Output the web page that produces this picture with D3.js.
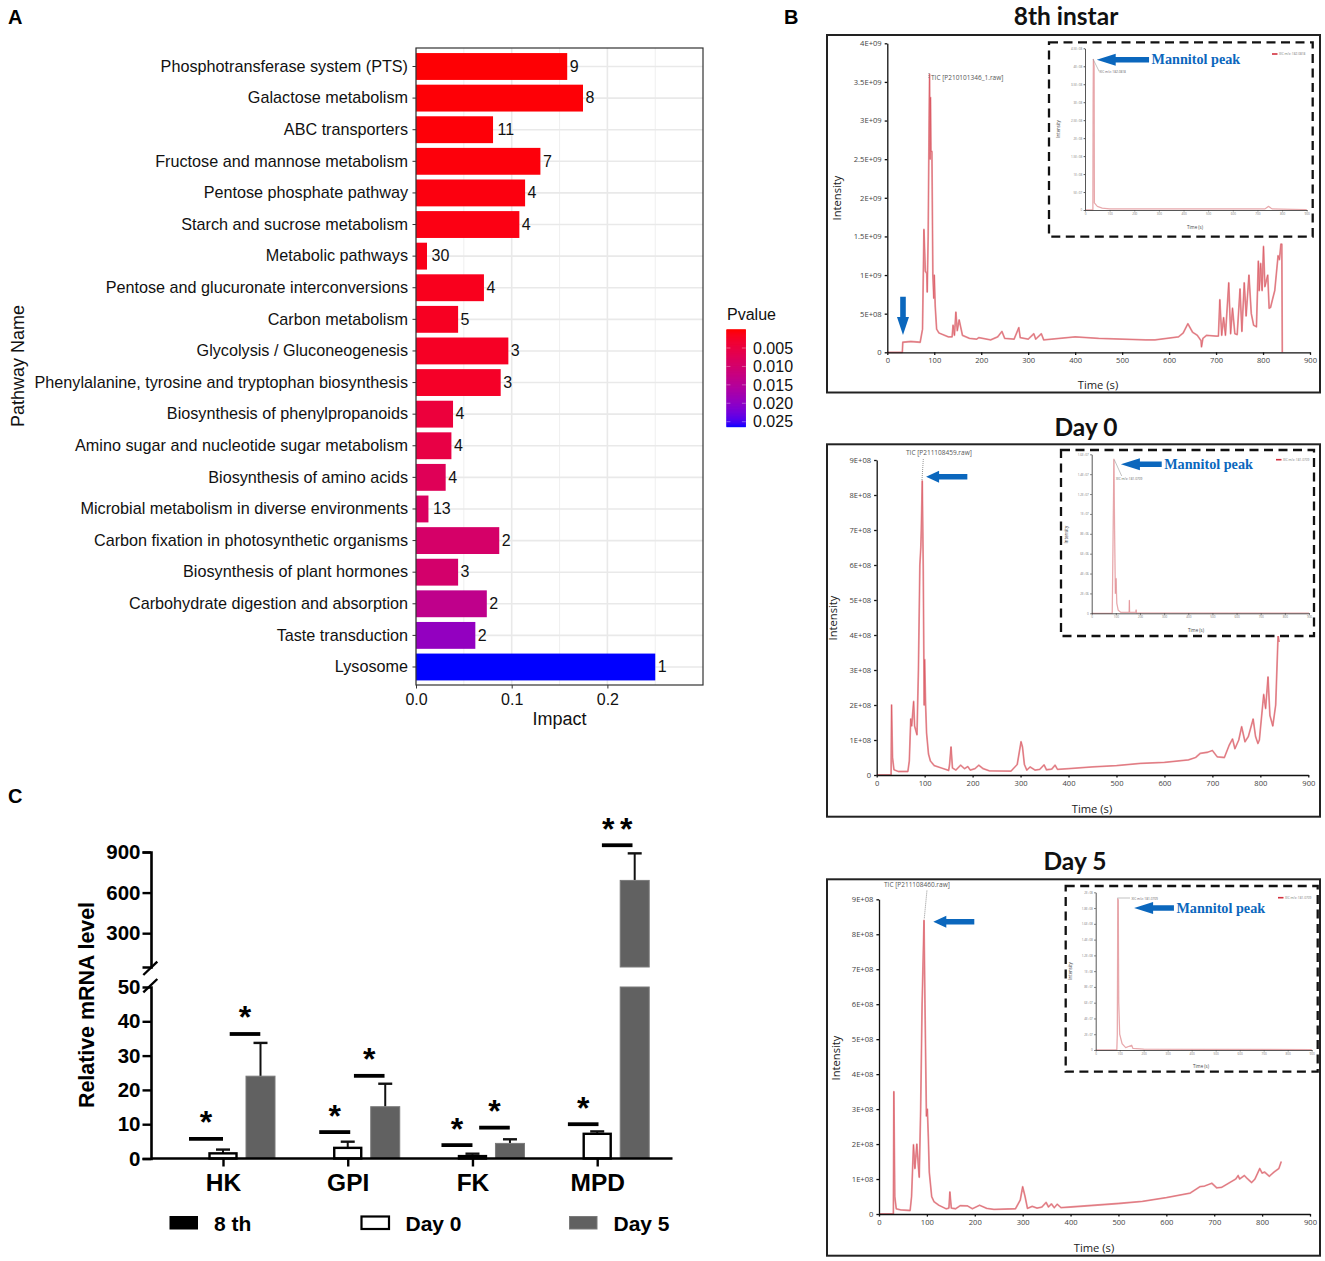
<!DOCTYPE html>
<html>
<head>
<meta charset="utf-8">
<script src="https://cdnjs.cloudflare.com/ajax/libs/d3/7.8.5/d3.min.js"></script>
<style>
html,body{margin:0;padding:0;background:#fff}
svg{display:block;font-family:"Liberation Sans",Arial,sans-serif}
</style>
</head>
<body>
<svg id="fig" width="1325" height="1261" viewBox="0 0 1325 1261"></svg>
<script>
// ---------- Panel A data ----------
const pathways = ["Phosphotransferase system (PTS)","Galactose metabolism","ABC transporters","Fructose and mannose metabolism","Pentose phosphate pathway","Starch and sucrose metabolism","Metabolic pathways","Pentose and glucuronate interconversions","Carbon metabolism","Glycolysis / Gluconeogenesis","Phenylalanine, tyrosine and tryptophan biosynthesis","Biosynthesis of phenylpropanoids","Amino sugar and nucleotide sugar metabolism","Biosynthesis of amino acids","Microbial metabolism in diverse environments","Carbon fixation in photosynthetic organisms","Biosynthesis of plant hormones","Carbohydrate digestion and absorption","Taste transduction","Lysosome"];
const impact = [0.158,0.1745,0.0805,0.13,0.114,0.108,0.0115,0.071,0.044,0.0965,0.0885,0.0387,0.037,0.031,0.013,0.087,0.044,0.074,0.062,0.25];
const hits = [9,8,11,7,4,4,30,4,5,3,3,4,4,4,13,2,3,2,2,1];
const pvalues = [0.0002,0.0003,0.0004,0.0005,0.0007,0.0009,0.0012,0.0016,0.002,0.0022,0.0025,0.0045,0.0055,0.0075,0.0085,0.0095,0.0098,0.0135,0.0195,0.0263];
const pTicks = [0.005,0.010,0.015,0.020,0.025];
const impactTicks = [0,0.1,0.2];
const impactMinor = [0.05,0.15,0.25];

// ---------- Panel C data ----------
const genes = ["HK","GPI","FK","MPD"];
const stages = ["8 th","Day 0","Day 5"];
const mean8th = [0,0,0,0];
const meanDay0 = [1.5,3.1,0.7,7.2];
const meanDay5 = [24,15.1,4.4,690];
const upperDay0 = [2.6,4.9,1.4,7.9];
const upperDay5 = [33.7,21.8,5.6,890];
const lowTicks = [0,10,20,30,40,50];
const highTicks = [300,600,900];
// significance: gene index, level (y value), star count
const sigGene = [0,0,1,1,2,2,3,3];
const sigLevel = [5.7,36.3,7.7,24.1,3.9,9,10,950];
const sigCenter = [-17,22,-13,21.5,-15.5,22,-14,20];
const sigWidth = [34,30.6,31,30.6,31,30.6,30.6,30.6];
const sigStars = ["*","*","*","*","*","*","*","**"];

// ---------- Panel B data: [time s, intensity in the plot's unit] ----------
const tic8th = [[0,0],[32,0],[33,1.3],[50,1.4],[70,1.3],[75,3],[78,15.9],[81,10.5],[84,10.2],[85,7.8],[87,15],[89,30],[90,36],[91,25],[92,33],[93,26],[95,26],[97,10],[99,7],[100,10],[102,6],[105,3],[110,2.5],[130,2],[138,2],[140,3.5],[143,2.2],[146,5.2],[149,2.8],[153,4.2],[160,2.2],[175,1.8],[190,1.7],[195,1.9],[220,1.6],[235,2],[244,2.7],[250,1.8],[270,1.7],[280,3.2],[283,1.9],[300,1.7],[312,2.4],[316,1.7],[328,2.4],[333,1.6],[350,1.7],[400,2],[450,1.8],[500,1.7],[550,1.6],[570,1.6],[620,2],[630,2.5],[640,3.7],[650,2.6],[660,2.2],[668,1.5],[669,0.7],[672,1.8],[680,2.2],[700,2.1],[705,2.1],[708,6.8],[712,2.2],[716,4.5],[720,2.2],[727,9],[731,2.4],[735,5.7],[740,2.4],[745,2.3],[751,8.2],[755,2.7],[760,9],[764,4.7],[770,10],[775,5],[780,3.5],[786,3.3],[790,11.8],[792,8],[795,11.5],[798,8],[801,13.7],[804,8.5],[810,10],[813,5.7],[816,5.8],[820,6.8],[825,8],[832,12.5],[835,12],[838,14],[840,14],[841,0]];
const ticDay0 = [[0,0],[30,0],[31,20],[33,5],[36,1.5],[45,1],[65,1],[68,4],[71,16],[73,14],[77,21],[79,14],[84,11.5],[87,30],[90,60],[92,65],[93,70],[95,84],[97,60],[99,20],[100,33],[102,20],[104,12],[108,6],[112,4],[120,2.7],[135,2],[150,1.3],[152,3],[155,8],[158,2],[165,1.4],[175,2.8],[183,1.8],[190,2.4],[195,1.4],[205,1.8],[213,2.8],[222,1.8],[235,1.2],[280,1.1],[293,3],[301,9.5],[304,8],[308,3],[313,1.4],[320,2.3],[330,1.4],[340,1.6],[349,2.9],[354,1.5],[365,1.7],[372,2.8],[377,1.6],[400,1.8],[450,2.3],[500,2.7],[550,3.3],[600,3.6],[650,4.3],[665,5],[675,6.2],[690,6.5],[700,7],[710,5.2],[725,5],[735,8.5],[742,10.3],[747,7.5],[755,10],[761,13.8],[768,9.5],[775,11],[785,16],[790,11],[795,9],[798,10],[800,13],[807,23],[811,19],[816,28],[820,17],[826,14],[832,20],[837,40],[839,38]];
const ticDay5 = [[0,0],[30,0],[31,35],[33,5],[36,1.5],[45,1.2],[65,1],[68,5],[72,19.8],[75,13],[79,20],[82,14],[84,10.5],[87,30],[90,60],[94,84],[96,60],[99,28],[101,30],[103,22],[105,12],[110,5],[115,3.5],[125,2.5],[140,1.5],[146,1.7],[148,6.3],[151,1.7],[160,1.5],[170,2.4],[185,2.3],[195,1.5],[210,2.5],[225,1.6],[240,1.3],[285,1.5],[295,4],[300,7.8],[305,5],[310,1.6],[320,2.2],[330,1.7],[340,2],[349,3.3],[354,2],[360,2.9],[366,1.8],[372,2.8],[380,1.8],[400,2],[450,2.5],[500,3],[550,3.6],[600,4.7],[650,6],[670,7.8],[680,8],[695,8.8],[705,7.5],[715,7.6],[730,8.8],[745,10],[750,11],[753,10],[763,11],[770,10],[778,9],[785,10],[795,13],[800,11.7],[805,12],[815,10.8],[825,12],[835,13],[840,15]];
const xicA = [[0,0],[32,0],[33,30],[34,41.9],[37,40],[38,2],[50,1],[70,0.5],[100,0.3],[730,0.3],[745,1],[760,0.3],[840,0.2],[900,0.1]];
const xicB = [[0,0],[85,0],[86,2],[92,15.5],[95,8],[98,2],[101,3.5],[104,1],[110,0.3],[120,0.1],[155,0.1],[156,1.3],[157,0.1],[183,0.1],[184,0.35],[185,0.05],[900,0.02]];
const xicC = [[0,0],[88,0],[90,2],[92,19.2],[94,19],[96,6],[100,2],[110,0.8],[125,0.3],[150,0.6],[155,0.2],[200,0.1],[900,0.05]];
const timeTicks = [0,100,200,300,400,500,600,700,800,900];
const yTicks8th = [0,5,10,15,20,25,30,35,40];
const yLabels8th = ["0","5E+08","1E+09","1.5E+09","2E+09","2.5E+09","3E+09","3.5E+09","4E+09"];
const yTicksDay = [0,10,20,30,40,50,60,70,80,90];
const yLabelsDay = ["0","1E+08","2E+08","3E+08","4E+08","5E+08","6E+08","7E+08","8E+08","9E+08"];
const yTicksA = [0,5,10,15,20,25,30,35,40,45];
const yLabelsA = ["0","5E+07","1E+08","1.5E+08","2E+08","2.5E+08","3E+08","3.5E+08","4E+08","4.5E+08"];
const yTicksB = [0,2,4,6,8,10,12,14,16];
const yLabelsB = ["0","2E+06","4E+06","6E+06","8E+06","1E+07","1.2E+07","1.4E+07","1.6E+07"];
const yTicksC = [0,2,4,6,8,10,12,14,16,18,20];
const yLabelsC = ["0","2E+07","4E+07","6E+07","8E+07","1E+08","1.2E+08","1.4E+08","1.6E+08","1.8E+08","2E+08"];

const svg = d3.select("#fig");
const BLUE = "#0b67bd";

// ---------- panel letters ----------
[["A",8,24],["B",784,24],["C",8,803]].forEach(d=>{
  svg.append("text").attr("x",d[1]).attr("y",d[2]).attr("font-size",20).attr("font-weight","bold").text(d[0]);
});

// ---------- Panel A ----------
(function(){
  const L=416,R=703,T=48,B=685;
  const x=d3.scaleLinear().domain([0,0.3]).range([L,L+287.1]);
  const y=d3.scaleBand().domain(pathways).range([50.7,682.8]).paddingInner(0.15).paddingOuter(0.075);
  const color=d3.scaleLinear().domain([0.00005,0.0263]).range(["#ff0000","#0000ff"]).interpolate(d3.interpolateLab).clamp(true);
  const g=svg.append("g");
  g.selectAll("line.minor").data(impactMinor).join("line").attr("x1",d=>x(d)).attr("x2",d=>x(d)).attr("y1",T).attr("y2",B).attr("stroke","#ededed").attr("stroke-width",0.9);
  g.selectAll("line.vmajor").data(impactTicks).join("line").attr("x1",d=>x(d)).attr("x2",d=>x(d)).attr("y1",T).attr("y2",B).attr("stroke","#e9e9e9").attr("stroke-width",1.6);
  g.selectAll("line.hmajor").data(pathways).join("line").attr("x1",L).attr("x2",R).attr("y1",d=>y(d)+y.bandwidth()/2).attr("y2",d=>y(d)+y.bandwidth()/2).attr("stroke","#e9e9e9").attr("stroke-width",1.6);
  g.selectAll("rect.bar").data(pathways).join("rect").attr("x",x(0)).attr("y",d=>y(d)).attr("width",(d,i)=>x(impact[i])-x(0)).attr("height",y.bandwidth()).attr("fill",(d,i)=>color(pvalues[i]));
  g.selectAll("text.count").data(pathways).join("text").attr("x",(d,i)=>x(impact[i])+(hits[i]>=10?4.5:2.5)).attr("y",d=>y(d)+y.bandwidth()/2).attr("dy","0.33em").attr("font-size",16).attr("fill","#111").text((d,i)=>hits[i]);
  g.append("rect").attr("x",L).attr("y",T).attr("width",R-L).attr("height",B-T).attr("fill","none").attr("stroke","#333").attr("stroke-width",1.2);
  const ay=g.append("g").attr("transform",`translate(${L},0)`).call(d3.axisLeft(y).tickSize(3.5).tickPadding(4.5));
  ay.select(".domain").remove();
  ay.selectAll("text").attr("font-size",16.2).attr("fill","#111").attr("font-family","Liberation Sans");
  ay.selectAll("line").attr("stroke","#333");
  const ax=g.append("g").attr("transform",`translate(0,${B})`).call(d3.axisBottom(x).tickValues(impactTicks).tickFormat(d3.format(".1f")).tickSize(3.5).tickPadding(5));
  ax.select(".domain").remove();
  ax.selectAll("text").attr("font-size",16).attr("fill","#111").attr("font-family","Liberation Sans");
  ax.selectAll("line").attr("stroke","#333");
  g.append("text").attr("x",559.5).attr("y",725).attr("text-anchor","middle").attr("font-size",18).attr("fill","#111").text("Impact");
  g.append("text").attr("transform","translate(24,366) rotate(-90)").attr("text-anchor","middle").attr("font-size",18).attr("fill","#111").text("Pathway Name");
  // colour bar
  g.append("text").attr("x",727).attr("y",319.5).attr("font-size",16).attr("fill","#111").text("Pvalue");
  const cy=d3.scaleLinear().domain([0.005,0.025]).range([348,421.7]);
  const steps=d3.range(-0.00008,0.0263,0.0001);
  g.selectAll("rect.cb").data(steps).join("rect").attr("x",726.5).attr("width",19.3).attr("y",d=>cy(d)).attr("height",1).attr("fill",d=>color(d));
  g.selectAll("line.cbl").data(pTicks).join("line").attr("x1",726.5).attr("x2",730.4).attr("y1",d=>cy(d)).attr("y2",d=>cy(d)).attr("stroke","#fff").attr("stroke-width",0.5).attr("stroke-opacity",0.7);
  g.selectAll("line.cbr").data(pTicks).join("line").attr("x1",741.9).attr("x2",745.8).attr("y1",d=>cy(d)).attr("y2",d=>cy(d)).attr("stroke","#fff").attr("stroke-width",0.5).attr("stroke-opacity",0.7);
  g.selectAll("text.cbt").data(pTicks).join("text").attr("x",753).attr("y",d=>cy(d)).attr("dy","0.36em").attr("font-size",16).attr("fill","#111").text(d=>d.toFixed(3));
})();

// ---------- Panel C ----------
(function(){
  const xG=d3.scalePoint().domain(genes).range([223,597.2]);
  const xS=d3.scalePoint().domain(stages).range([-37.5,37.5]);
  const barW=29;
  const yLow=d3.scaleLinear().domain([0,50]).range([1158.5,987]);
  const yHigh=d3.scaleLinear().domain([50,900]).range([967,852]);
  const yAny=v=>v<=50?yLow(v):yHigh(v);
  const g=svg.append("g");
  const rows=[];
  genes.forEach((gene,i)=>{
    rows.push({gene,stage:"8 th",v:mean8th[i],u:mean8th[i]});
    rows.push({gene,stage:"Day 0",v:meanDay0[i],u:upperDay0[i]});
    rows.push({gene,stage:"Day 5",v:meanDay5[i],u:upperDay5[i]});
  });
  const cx=d=>xG(d.gene)+xS(d.stage);
  const eb=rows.filter(d=>d.u>d.v);
  g.selectAll("line.err").data(eb).join("line").attr("x1",cx).attr("x2",cx).attr("y1",d=>yAny(d.v)).attr("y2",d=>yAny(d.u)).attr("stroke","#111").attr("stroke-width",2);
  g.selectAll("line.cap").data(eb).join("line").attr("x1",d=>cx(d)-7).attr("x2",d=>cx(d)+7).attr("y1",d=>yAny(d.u)).attr("y2",d=>yAny(d.u)).attr("stroke","#111").attr("stroke-width",2.4);
  const segs=[];
  rows.forEach(d=>{
    if(d.v<=50) segs.push({d,y0:yLow(0),y1:yLow(d.v)});
    else { segs.push({d,y0:yLow(0),y1:yLow(50)}); segs.push({d,y0:yHigh(50),y1:yHigh(d.v)}); }
  });
  g.selectAll("rect.bar").data(segs.filter(s=>s.y0>s.y1)).join("rect")
    .attr("x",s=>cx(s.d)-barW/2+(s.d.stage==="Day 0"?1:0)).attr("width",s=>barW-(s.d.stage==="Day 0"?2:0))
    .attr("y",s=>s.y1).attr("height",s=>s.y0-s.y1)
    .attr("fill",s=>s.d.stage==="Day 5"?"#616161":s.d.stage==="Day 0"?"#fff":"#000")
    .attr("stroke",s=>s.d.stage==="Day 5"?"#7a7a7a":"#000")
    .attr("stroke-width",s=>s.d.stage==="Day 0"?2.4:1);
  const styleAxis=(a)=>{
    a.select(".domain").attr("stroke","#000").attr("stroke-width",2.6);
    a.selectAll("line").attr("stroke","#000").attr("stroke-width",2.4);
    a.selectAll("text").attr("font-family","Liberation Sans").attr("font-weight","bold").attr("fill","#000");
  };
  const a1=g.append("g").attr("transform","translate(151,0)").call(d3.axisLeft(yLow).tickValues(lowTicks).tickSizeOuter(0).tickSize(8.5).tickPadding(2).tickFormat(d3.format("d")));
  styleAxis(a1); a1.selectAll("text").attr("font-size",20.5);
  a1.selectAll(".tick").filter(d=>d===50).select("line").remove();
  const a2=g.append("g").attr("transform","translate(151,0)").call(d3.axisLeft(yHigh).tickValues(highTicks).tickSizeOuter(0).tickSize(8.5).tickPadding(2).tickFormat(d3.format("d")));
  styleAxis(a2); a2.selectAll("text").attr("font-size",20.5);
  const xb=d3.scaleLinear().domain([0,1]).range([151,672.5]);
  g.append("path").attr("d",`M${xb(0)},${yLow(0)}H${xb(1)}`).attr("stroke","#000").attr("stroke-width",2.6);
  const a3=g.append("g").attr("transform",`translate(0,${yLow(0)})`).call(d3.axisBottom(xG).tickSize(8).tickPadding(7));
  a3.select(".domain").remove();
  styleAxis(a3); a3.selectAll("text").attr("font-size",24.5);
  [yLow(50),yHigh(50)].forEach(b=>{
    g.append("line").attr("x1",143.3).attr("x2",157.3).attr("y1",b+(b<980?8:5.3)).attr("y2",b+(b<980?-5.3:-8)).attr("stroke","#000").attr("stroke-width",2.4);
  });
  g.append("text").attr("transform","translate(94,1005) rotate(-90)").attr("text-anchor","middle").attr("font-size",21.4).attr("font-weight","bold").text("Relative mRNA level");
  g.selectAll("line.sig").data(sigLevel).join("line")
    .attr("x1",(d,i)=>xG(genes[sigGene[i]])+sigCenter[i]-sigWidth[i]/2)
    .attr("x2",(d,i)=>xG(genes[sigGene[i]])+sigCenter[i]+sigWidth[i]/2)
    .attr("y1",d=>yAny(d)).attr("y2",d=>yAny(d)).attr("stroke","#000").attr("stroke-width",3.8);
  g.selectAll("text.star").data(sigLevel).join("text")
    .attr("x",(d,i)=>xG(genes[sigGene[i]])+sigCenter[i]+(sigStars[i].length>1?2.8:0)).attr("y",d=>yAny(d)-5.5)
    .attr("text-anchor","middle").attr("font-size",32).attr("font-weight","bold").attr("letter-spacing",(d,i)=>sigStars[i].length>1?5.6:0).text((d,i)=>sigStars[i]);
  const swX={"8 th":170,"Day 0":361.5,"Day 5":569.5};
  g.selectAll("rect.leg").data(stages).join("rect").attr("x",d=>swX[d]).attr("y",1216.5).attr("width",27.5).attr("height",12.5)
    .attr("fill",d=>d==="Day 5"?"#616161":d==="Day 0"?"#fff":"#000").attr("stroke",d=>d==="Day 5"?"#7a7a7a":"#000").attr("stroke-width",d=>d==="Day 0"?2.2:1);
  g.selectAll("text.leg").data(stages).join("text").attr("x",d=>swX[d]+44).attr("y",1230.5).attr("font-size",21).attr("font-weight","bold").text(d=>d);
})();

// ---------- Panel B ----------
function arrowPath(x1,y1,x2,y2,headLen,headHalf,shaftHalf){
  const a=Math.atan2(y2-y1,x2-x1),c=Math.cos(a),s=Math.sin(a);
  const P=(u,v)=>[x1+u*c-v*s,y1+u*s+v*c].map(n=>n.toFixed(2)).join(",");
  const L=Math.hypot(x2-x1,y2-y1);
  return "M"+[P(0,-shaftHalf),P(L-headLen,-shaftHalf),P(L-headLen,-headHalf),P(L,0),P(L-headLen,headHalf),P(L-headLen,shaftHalf),P(0,shaftHalf)].join("L")+"Z";
}
function chrom(o){
  const g=svg.append("g");
  const x=d3.scaleLinear().domain([0,900]).range([o.x0,o.x1]);
  const y=d3.scaleLinear().domain([0,o.yMax]).range([o.y0,o.y1]);
  const frame=o.frame;
  if(o.inset){
    g.append("rect").attr("x",frame[0]).attr("y",frame[1]).attr("width",frame[2]-frame[0]).attr("height",frame[3]-frame[1]).attr("fill","#fff").attr("stroke","#111").attr("stroke-width",2.3).attr("stroke-dasharray","9 5.5");
  } else {
    g.append("rect").attr("x",frame[0]).attr("y",frame[1]).attr("width",frame[2]-frame[0]).attr("height",frame[3]-frame[1]).attr("fill","#fff").attr("stroke","#222").attr("stroke-width",2);
  }
  const line=d3.line().x(d=>x(d[0])).y(d=>y(d[1]));
  g.append("path").attr("d",line(o.trace)).attr("fill","none").attr("stroke",o.inset?"#ecbcbe":"#e89fa4").attr("stroke-width",o.inset?1.3:1.8).attr("stroke-linejoin","round");
  g.append("path").attr("d",line(o.trace)).attr("fill","none").attr("stroke","#d3313f").attr("stroke-width",o.inset?0.2:0.5).attr("stroke-opacity",0.75);
  const fs=o.inset?3:7.6, tick=o.inset?1.4:2.6, sw=o.inset?0.9:1.3;
  const ax=g.append("g").attr("transform",`translate(0,${o.y0})`).call(d3.axisBottom(x).tickValues(timeTicks).tickSize(tick).tickSizeOuter(0).tickPadding(o.inset?1.5:3));
  const ay=g.append("g").attr("transform",`translate(${o.x0},0)`).call(d3.axisLeft(y).tickValues(o.yTicks).tickFormat((d,i)=>o.yLabels[i]).tickSize(tick).tickSizeOuter(0).tickPadding(o.inset?1.5:3));
  [ax,ay].forEach(a=>{
    a.select(".domain").attr("stroke",o.inset?"#444":"#111").attr("stroke-width",sw);
    a.selectAll("line").attr("stroke",o.inset?"#444":"#111").attr("stroke-width",sw);
    a.selectAll("text").attr("font-family","Open Sans").attr("font-size",fs).attr("fill",o.inset?"#777":"#444");
  });
  const tf=o.inset?4.4:11.2;
  g.append("text").attr("x",o.timeX).attr("y",o.timeY).attr("text-anchor","middle").attr("font-family","Open Sans").attr("font-size",tf).attr("fill",o.inset?"#444":"#222").text("Time (s)");
  g.append("text").attr("transform",`translate(${o.intX},${o.intY}) rotate(-90)`).attr("text-anchor","middle").attr("font-family","Open Sans").attr("font-size",tf).attr("fill",o.inset?"#444":"#222").text("Intensity");
  const A=o.arrow;
  g.append("path").attr("d",arrowPath(x(A[0]),y(A[1]),x(A[2]),y(A[3]),A[4],6,2.8)).attr("fill",BLUE);
  if(o.inset){
    g.append("text").attr("x",x(A[0])+2.5).attr("y",y(A[1])+4.6).attr("font-family","Liberation Serif").attr("font-weight","bold").attr("font-size",14.2).attr("fill",BLUE).text("Mannitol peak");
    g.append("line").attr("x1",o.leader[0]).attr("y1",o.leader[1]).attr("x2",o.leader[2]).attr("y2",o.leader[3]).attr("stroke","#999").attr("stroke-width",0.6);
    g.append("text").attr("x",o.peakX).attr("y",o.peakY).attr("font-family","Open Sans").attr("font-size",3.2).attr("fill","#666").text(o.peakText);
    g.append("rect").attr("x",o.legX).attr("y",o.legY-0.8).attr("width",5.5).attr("height",1.6).attr("fill","#d3313f");
    g.append("text").attr("x",o.legX+7).attr("y",o.legY+1.2).attr("font-family","Open Sans").attr("font-size",3.2).attr("fill","#777").text(o.peakText);
  } else {
    g.append("text").attr("x",o.ticX).attr("y",o.ticY).attr("font-family","Open Sans").attr("font-size",6.5).attr("fill","#555").text(o.ticText);
    g.append("line").attr("x1",o.leader[0]).attr("y1",o.leader[1]).attr("x2",o.leader[2]).attr("y2",o.leader[3]).attr("stroke","#777").attr("stroke-width",0.8).attr("stroke-dasharray","1 1");
  }
}
chrom({frame:[827,35,1320,392.5],x0:887.3,x1:1310,y0:352.3,y1:43.3,yMax:40,yTicks:yTicks8th,yLabels:yLabels8th,trace:tic8th,
  timeX:1098,timeY:389,intX:840.5,intY:198,arrow:[33.4,7.2,33.4,2.24,18],ticX:931,ticY:80,ticText:"TIC [P210101346_1.raw]",leader:[929,73,929,78]});
chrom({frame:[827,444.3,1320,816.7],x0:876.7,x1:1308.3,y0:775,y1:460,yMax:90,yTicks:yTicksDay,yLabels:yLabelsDay,trace:ticDay0,
  timeX:1092,timeY:813,intX:837,intY:618,arrow:[189,85.2,103,85.2,13],ticX:906,ticY:455,ticText:"TIC [P211108459.raw]",leader:[922,480,923.3,459]});
chrom({frame:[827,879.3,1320,1255.7],x0:879,x1:1310,y0:1214,y1:899.3,yMax:90,yTicks:yTicksDay,yLabels:yLabelsDay,trace:ticDay5,
  timeX:1094,timeY:1252,intX:840,intY:1058,arrow:[199,83.6,113.4,83.6,13],ticX:884,ticY:887,ticText:"TIC [P211108460.raw]",leader:[924.3,918.3,927,890]});
chrom({inset:true,frame:[1049,42.3,1312.7,236.7],x0:1085,x1:1306.7,y0:210,y1:48.3,yMax:45,yTicks:yTicksA,yLabels:yLabelsA,trace:xicA,
  timeX:1195,timeY:229,intX:1059.5,intY:129,arrow:[260,41.8,47.5,41.8,19],leader:[1093,59,1099.3,71.7],peakX:1099.5,peakY:73,peakText:"XIC m/z: 182.0818",legX:1272,legY:54});
chrom({inset:true,frame:[1061,450,1314,636],x0:1091.7,x1:1309,y0:613.3,y1:454.3,yMax:16,yTicks:yTicksB,yLabels:yLabelsB,trace:xicB,
  timeX:1196,timeY:632,intX:1068,intY:534.7,arrow:[290,15,121,15,19],leader:[1114.3,459.7,1121.7,476],peakX:1116,peakY:480,peakText:"XIC m/z: 181.0709",legX:1276,legY:459.7});
chrom({inset:true,frame:[1065.7,886,1317.7,1071.7],x0:1095.7,x1:1311.7,y0:1050,y1:892.3,yMax:20,yTicks:yTicksC,yLabels:yLabelsC,trace:xicC,
  timeX:1201,timeY:1068,intX:1071.5,intY:971,arrow:[326,18,160,18,19],leader:[1117.3,898,1130,898],peakX:1131.5,peakY:899.5,peakText:"XIC m/z: 181.0709",legX:1278,legY:897.7});

// ---------- B titles ----------
[["8th instar",1066,24.5],["Day 0",1086,435.5],["Day 5",1075,869.5]].forEach(d=>{
  svg.append("text").attr("x",d[1]).attr("y",d[2]).attr("text-anchor","middle").attr("font-family","Lato").attr("font-weight",700).attr("font-size",24.5).attr("fill","#111").text(d[0]);
});
</script>
</body>
</html>
